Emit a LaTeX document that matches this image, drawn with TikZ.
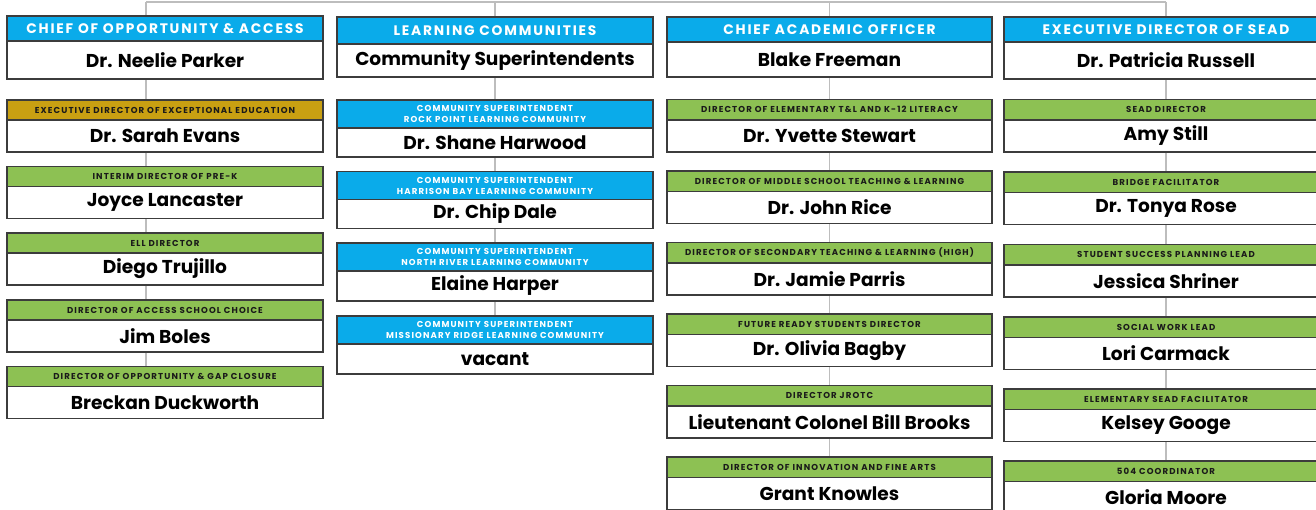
\documentclass[tikz,border=0pt]{standalone}
\usepackage{fontspec}
\setmainfont{Poppins}
\newfontfamily\hdrfont{Poppins}[LetterSpace=13]
\usetikzlibrary{backgrounds}
\definecolor{cblue}{HTML}{0AABEA}
\definecolor{cgreen}{HTML}{8DC153}
\definecolor{cgold}{HTML}{C9A012}
\definecolor{edge}{HTML}{3C3C3C}
\definecolor{linegray}{HTML}{BDBDBD}
\definecolor{dtext}{HTML}{1A1A1A}
\newcommand\bigh{\hdrfont\bfseries\fontsize{13.8}{15}\selectfont}
\newcommand\smallh{\hdrfont\bfseries\fontsize{8.6}{11}\selectfont}
\newcommand\namef{\bfseries\fontsize{18.6}{20}\selectfont}
\tikzset{
  conn/.style={draw=linegray, line width=1.4pt},
  hdr/.style={draw=edge, line width=1.1pt, inner sep=0pt, outer sep=0pt, anchor=north west, align=center},
  bluebig/.style={hdr, fill=cblue, text=white, font=\bigh},
  bluesmall/.style={hdr, fill=cblue, text=white, font=\smallh},
  greenhdr/.style={hdr, fill=cgreen, text=dtext, font=\smallh},
  goldhdr/.style={hdr, fill=cgold, text=dtext, font=\smallh},
  body/.style={draw=edge, line width=1.1pt, fill=white, inner sep=0pt, outer sep=0pt, anchor=north west, text=black, font=\namef},
}
% id, x, y, width, header height, body height, header style, header text, name
\newcommand\obox[9]{%
  \node[#7, minimum width=#4pt, minimum height=#5pt] (#1h) at (#2,#3) {#8};
  \node[body, minimum width=#4pt, minimum height=#6pt] (#1b) at (#1h.south west) {#9};
}
\begin{document}
\begin{tikzpicture}[x=1pt, y=-1pt]
\useasboundingbox (0,0) rectangle (1316,510);
\clip (0,0) rectangle (1316,510);
% column 1
\obox{a1}{7}{16}{316}{25}{38}{bluebig}{CHIEF OF OPPORTUNITY \& ACCESS}{Dr. Neelie Parker}
\obox{a2}{7}{100}{316}{20}{32}{goldhdr}{EXECUTIVE DIRECTOR OF EXCEPTIONAL EDUCATION}{Dr. Sarah Evans}
\obox{a3}{7}{166.5}{316}{20}{32}{greenhdr}{INTERIM DIRECTOR OF PRE-K}{Joyce Lancaster}
\obox{a4}{7}{233}{316}{20}{32}{greenhdr}{ELL DIRECTOR}{Diego Trujillo}
\obox{a5}{7}{300}{316}{20}{32}{greenhdr}{DIRECTOR OF ACCESS SCHOOL CHOICE}{Jim Boles}
\obox{a6}{7}{366.5}{316}{20}{32}{greenhdr}{DIRECTOR OF OPPORTUNITY \& GAP CLOSURE}{Breckan Duckworth}
% column 2
\obox{b1}{337}{17}{316}{27}{33}{bluebig}{LEARNING COMMUNITIES}{Community Superintendents}
\obox{b2}{337}{100}{316}{28}{29}{bluesmall}{COMMUNITY SUPERINTENDENT\\ROCK POINT LEARNING COMMUNITY}{Dr. Shane Harwood}
\obox{b3}{337}{171.5}{316}{28}{29}{bluesmall}{COMMUNITY SUPERINTENDENT\\HARRISON BAY LEARNING COMMUNITY}{Dr. Chip Dale}
\obox{b4}{337}{243}{316}{28}{30}{bluesmall}{COMMUNITY SUPERINTENDENT\\NORTH RIVER LEARNING COMMUNITY}{Elaine Harper}
\obox{b5}{337}{316}{316}{28}{30}{bluesmall}{COMMUNITY SUPERINTENDENT\\MISSIONARY RIDGE LEARNING COMMUNITY}{vacant}
% column 3
\obox{c1}{667}{17}{325}{25}{35}{bluebig}{CHIEF ACADEMIC OFFICER}{Blake Freeman}
\obox{c2}{667}{99.5}{325}{20.5}{32}{greenhdr}{DIRECTOR OF ELEMENTARY T\&L AND K-12 LITERACY}{Dr. Yvette Stewart}
\obox{c3}{667}{171}{325}{20.5}{32}{greenhdr}{DIRECTOR OF MIDDLE SCHOOL TEACHING \& LEARNING}{Dr. John Rice}
\obox{c4}{667}{242.5}{325}{20.5}{32}{greenhdr}{DIRECTOR OF SECONDARY TEACHING \& LEARNING (HIGH)}{Dr. Jamie Parris}
\obox{c5}{667}{314}{325}{20.5}{32}{greenhdr}{FUTURE READY STUDENTS DIRECTOR}{Dr. Olivia Bagby}
\obox{c6}{667}{385.5}{325}{20.5}{32}{greenhdr}{DIRECTOR JROTC}{Lieutenant Colonel Bill Brooks}
\obox{c7}{667}{457}{325}{20.5}{32}{greenhdr}{DIRECTOR OF INNOVATION AND FINE ARTS}{Grant Knowles}
% column 4
\obox{d1}{1004}{17}{324}{25}{37}{bluebig}{EXECUTIVE DIRECTOR OF SEAD}{Dr. Patricia Russell}
\obox{d2}{1004}{99.5}{324}{20.5}{32}{greenhdr}{SEAD DIRECTOR}{Amy Still}
\obox{d3}{1004}{172}{324}{20.5}{32}{greenhdr}{BRIDGE FACILITATOR}{Dr. Tonya Rose}
\obox{d4}{1004}{244.5}{324}{20.5}{32}{greenhdr}{STUDENT SUCCESS PLANNING LEAD}{Jessica Shriner}
\obox{d5}{1004}{317}{324}{20.5}{32}{greenhdr}{SOCIAL WORK LEAD}{Lori Carmack}
\obox{d6}{1004}{389}{324}{20.5}{32}{greenhdr}{ELEMENTARY SEAD FACILITATOR}{Kelsey Googe}
\obox{d7}{1004}{461}{324}{20.5}{32}{greenhdr}{504 COORDINATOR}{Gloria Moore}
% connectors
\begin{pgfonlayer}{background}
\coordinate (t1) at (146,2);
\coordinate (t4) at (1166,2);
\draw[conn] (t1) -- (t4);
\draw[conn] (t1) -- (a1h.north -| t1);
\draw[conn] (b1h.north |- t1) -- (b1h.north);
\draw[conn] (c1h.north |- t1) -- (c1h.north);
\draw[conn] (t4) -- (d1h.north -| t4);
\foreach \u/\v in {a1/a2,a2/a3,a3/a4,a4/a5,a5/a6}
  \draw[conn] (\u b.south -| t1) -- (\v h.north -| t1);
\foreach \u/\v in {b1/b2,b2/b3,b3/b4,b4/b5,c1/c2,c2/c3,c3/c4,c4/c5,c5/c6,c6/c7}
  \draw[conn] (\u b.south) -- (\v h.north);
\foreach \u/\v in {d1/d2,d2/d3,d3/d4,d4/d5,d5/d6,d6/d7}
  \draw[conn] (\u b.south -| t4) -- (\v h.north -| t4);
\end{pgfonlayer}
\end{tikzpicture}
\end{document}
